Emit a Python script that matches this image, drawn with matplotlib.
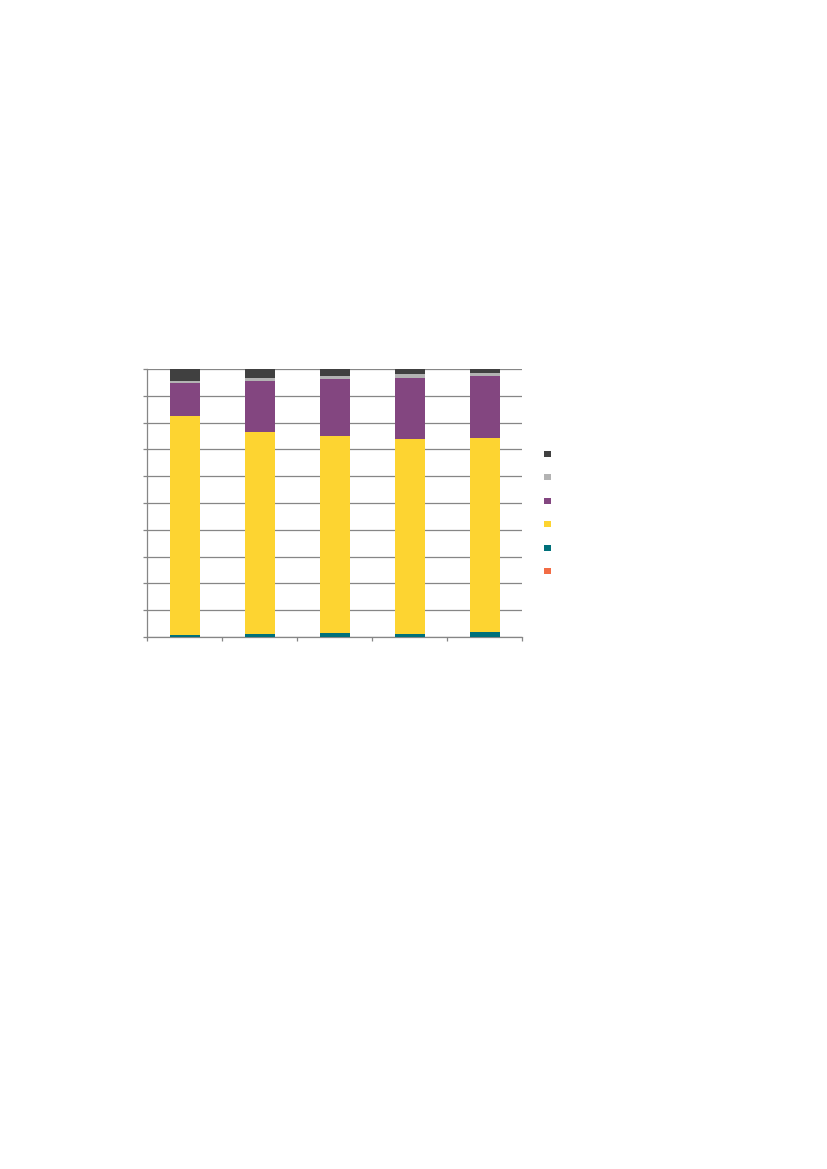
import numpy as np
import matplotlib
matplotlib.use('Agg')
import matplotlib.pyplot as plt
from matplotlib.patches import Patch

# 100% stacked shares (percent), bottom -> top
categories = ['1', '2', '3', '4', '5']
orange = [0.05, 0.05, 0.05, 0.05, 0.05]
teal = [0.8, 1.2, 1.6, 1.25, 1.7]
yellow = [81.6, 75.3, 73.5, 72.6, 72.6]
purple = [12.4, 19.0, 21.0, 22.8, 23.1]
grey = [0.8, 1.0, 1.3, 1.4, 1.1]
dark = [4.35, 3.45, 2.55, 1.9, 1.45]

series = [orange, teal, yellow, purple, grey, dark]
colors = ['#f26c45', '#00707a', '#fdd431', '#834680', '#b3b3b3', '#404040']

fig = plt.figure(figsize=(8.27, 11.69), dpi=100)
ax = fig.add_axes([0.1778, 0.4551, 0.4534, 0.2293])

x = np.arange(len(categories))
bottom = np.zeros(len(categories))
for vals, c in zip(series, colors):
    ax.bar(x, vals, bottom=bottom, width=0.4, color=c, edgecolor='none', zorder=3)
    bottom += np.array(vals)

ax.set_xlim(-0.5, len(categories) - 0.5)
ax.set_ylim(0, 100)
ax.set_yticks(np.arange(0, 101, 10))
ax.set_xticks(np.arange(-0.5, len(categories), 1.0))
ax.set_yticklabels([])
ax.set_xticklabels([])
ax.yaxis.grid(True, color='#868686', linewidth=0.9, zorder=0)
ax.tick_params(axis='both', direction='out', length=3, width=0.9, color='#868686')
for s in ['top', 'right']:
    ax.spines[s].set_visible(False)
for s in ['left', 'bottom']:
    ax.spines[s].set_color('#868686')
    ax.spines[s].set_linewidth(0.9)
ax.set_axisbelow(True)

handles = [Patch(facecolor=c, edgecolor='none') for c in colors[::-1]]
fig.legend(handles, [''] * len(handles), loc='upper left',
           bbox_to_anchor=(0.658, 0.6145), frameon=False, fontsize=5,
           handlelength=1.0, handleheight=1.0, handletextpad=0.4,
           labelspacing=2.45, borderpad=0, borderaxespad=0)

fig.savefig('out.png', dpi=100)
